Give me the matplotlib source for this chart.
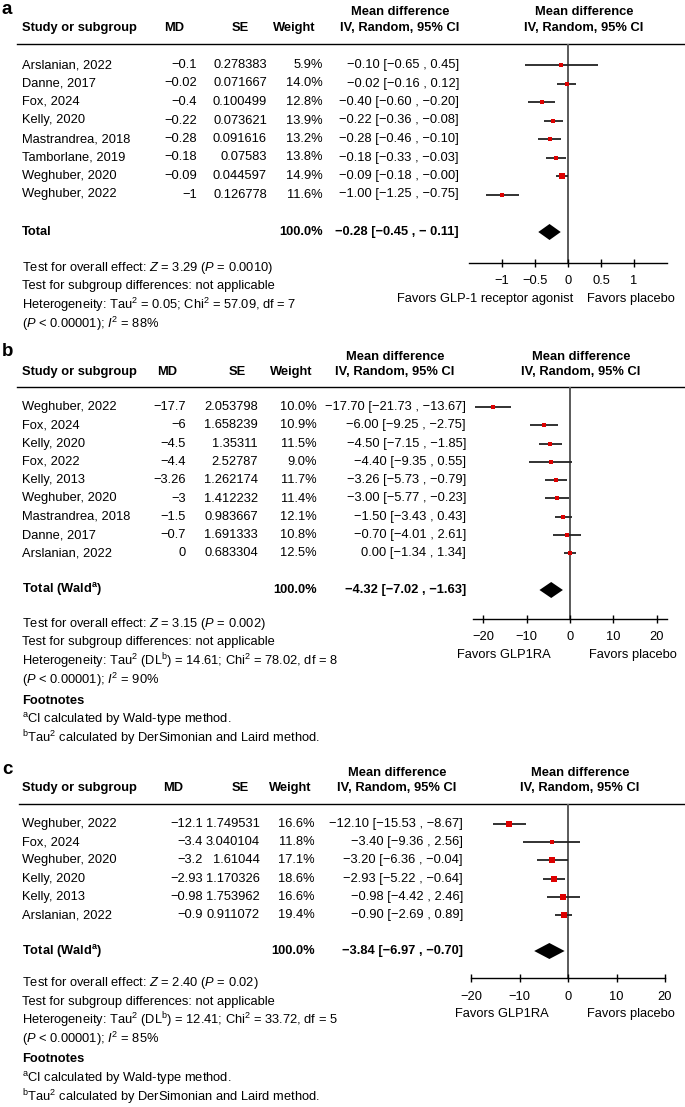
import matplotlib.pyplot as plt

plt.rcParams['font.family'] = ['Liberation Sans', 'DejaVu Sans']
plt.rcParams['mathtext.fontset'] = 'custom'
plt.rcParams['mathtext.rm'] = 'Liberation Sans'
plt.rcParams['mathtext.it'] = 'Liberation Sans:italic'
plt.rcParams['mathtext.bf'] = 'Liberation Sans:bold'

# ---- panel a: data ----
a_study = ["Arslanian, 2022", "Danne, 2017", "Fox, 2024", "Kelly, 2020",
           "Mastrandrea, 2018", "Tamborlane, 2019", "Weghuber, 2020", "Weghuber, 2022"]
a_md = [-0.1, -0.02, -0.4, -0.22, -0.28, -0.18, -0.09, -1]
a_se = [0.278383, 0.071667, 0.100499, 0.073621, 0.091616, 0.07583, 0.044597, 0.126778]
a_weight = [5.9, 14.0, 12.8, 13.9, 13.2, 13.8, 14.9, 11.6]
a_lo = [-0.65, -0.16, -0.60, -0.36, -0.46, -0.33, -0.18, -1.25]
a_hi = [0.45, 0.12, -0.20, -0.08, -0.10, -0.03, -0.0, -0.75]
a_total = [-0.28, -0.45, -0.11]
a_total_text = "−0.28 [−0.45 , − 0.11]"
a_ticks = [-1, -0.5, 0, 0.5, 1]
a_favors = ["Favors GLP-1 receptor agonist", "Favors placebo"]
a_stats = [r"Test for overall effect: $\mathit{Z}$ = 3.29 ($\mathit{P}$ = 0.0010)",
           "Test for subgroup differences: not applicable",
           r"Heterogeneity: Tau$^2$ = 0.05; Chi$^2$ = 57.09, df = 7",
           r"($\mathit{P}$ < 0.00001); $\mathit{I}^2$ = 88%"]

# ---- panel b: data ----
b_study = ["Weghuber, 2022", "Fox, 2024", "Kelly, 2020", "Fox, 2022", "Kelly, 2013",
           "Weghuber, 2020", "Mastrandrea, 2018", "Danne, 2017", "Arslanian, 2022"]
b_md = [-17.7, -6, -4.5, -4.4, -3.26, -3, -1.5, -0.7, 0]
b_se = [2.053798, 1.658239, 1.35311, 2.52787, 1.262174, 1.412232, 0.983667, 1.691333, 0.683304]
b_weight = [10.0, 10.9, 11.5, 9.0, 11.7, 11.4, 12.1, 10.8, 12.5]
b_lo = [-21.73, -9.25, -7.15, -9.35, -5.73, -5.77, -3.43, -4.01, -1.34]
b_hi = [-13.67, -2.75, -1.85, 0.55, -0.79, -0.23, 0.43, 2.61, 1.34]
b_total = [-4.32, -7.02, -1.63]
b_total_text = "−4.32 [−7.02 , −1.63]"
b_ticks = [-20, -10, 0, 10, 20]
b_favors = ["Favors GLP1RA", "Favors placebo"]
b_stats = [r"Test for overall effect: $\mathit{Z}$ = 3.15 ($\mathit{P}$ = 0.002)",
           "Test for subgroup differences: not applicable",
           r"Heterogeneity: Tau$^2$ (DL$^\mathrm{b}$) = 14.61; Chi$^2$ = 78.02, df = 8",
           r"($\mathit{P}$ < 0.00001); $\mathit{I}^2$ = 90%"]

# ---- panel c: data ----
c_study = ["Weghuber, 2022", "Fox, 2024", "Weghuber, 2020", "Kelly, 2020",
           "Kelly, 2013", "Arslanian, 2022"]
c_md = [-12.1, -3.4, -3.2, -2.93, -0.98, -0.9]
c_se = [1.749531, 3.040104, 1.61044, 1.170326, 1.753962, 0.911072]
c_weight = [16.6, 11.8, 17.1, 18.6, 16.6, 19.4]
c_lo = [-15.53, -9.36, -6.36, -5.22, -4.42, -2.69]
c_hi = [-8.67, 2.56, -0.04, -0.64, 2.46, 0.89]
c_total = [-3.84, -6.97, -0.70]
c_total_text = "−3.84 [−6.97 , −0.70]"
c_ticks = [-20, -10, 0, 10, 20]
c_favors = ["Favors GLP1RA", "Favors placebo"]
c_stats = [r"Test for overall effect: $\mathit{Z}$ = 2.40 ($\mathit{P}$ = 0.02)",
           "Test for subgroup differences: not applicable",
           r"Heterogeneity: Tau$^2$ (DL$^\mathrm{b}$) = 12.41; Chi$^2$ = 33.72, df = 5",
           r"($\mathit{P}$ < 0.00001); $\mathit{I}^2$ = 85%"]

footnotes = ["Footnotes",
             r"$^\mathrm{a}$CI calculated by Wald-type method.",
             r"$^\mathrm{b}$Tau$^2$ calculated by DerSimonian and Laird method."]

W, H = 685, 1107
FS = 9.3
fig = plt.figure(figsize=(W / 100, H / 100), dpi=100)
bg = fig.add_axes([0, 0, 1, 1])
bg.set_xlim(0, W)
bg.set_ylim(H, 0)
bg.axis("off")


def neg(s):
    return s.replace("-", "−")


def panel(letter, study, md, se, weight, lo, hi, total, total_label, total_text,
          ticks, xlim, favors, stats, lay):
    cols = lay["cols"]  # md_r, se_r, w_r, ci_r
    heads = lay["heads"]  # header centres
    bg.text(2, lay["label"], letter, fontsize=13.5, fontweight="bold", va="center")
    bg.text(heads[3], lay["h1"], "Mean difference", fontsize=FS, fontweight="bold", ha="center", va="center")
    bg.text(lay["rhead"], lay["h1"], "Mean difference", fontsize=FS, fontweight="bold", ha="center", va="center")
    y2 = lay["h2"]
    bg.text(22, y2, "Study or subgroup", fontsize=FS, fontweight="bold", va="center")
    bg.text(heads[0], y2, "MD", fontsize=FS, fontweight="bold", ha="center", va="center")
    bg.text(heads[1], y2, "SE", fontsize=FS, fontweight="bold", ha="center", va="center")
    bg.text(heads[2], y2, "Weight", fontsize=FS, fontweight="bold", ha="center", va="center")
    bg.text(heads[3], y2, "IV, Random, 95% CI", fontsize=FS, fontweight="bold", ha="center", va="center")
    bg.text(lay["rhead"], y2, "IV, Random, 95% CI", fontsize=FS, fontweight="bold", ha="center", va="center")
    bg.plot([lay["line_x0"], W], [lay["line"], lay["line"]], color="black", lw=1.0)

    rows = [lay["row0"] + i * lay["step"] for i in range(len(study))]
    for y, s, m, e, w, l, h in zip(rows, study, md, se, weight, lo, hi):
        bg.text(22, y, s, fontsize=FS, va="center")
        bg.text(cols[0], y, neg(f"{m:g}"), fontsize=FS, ha="right", va="center")
        bg.text(cols[1], y, str(e), fontsize=FS, ha="right", va="center")
        bg.text(cols[2], y, f"{w:.1f}%", fontsize=FS, ha="right", va="center")
        bg.text(cols[3], y, neg(f"{m:.2f} [{l:.2f} , {h:.2f}]"), fontsize=FS, ha="right", va="center")

    yt = lay["total"]
    bg.text(22, yt, total_label, fontsize=FS, fontweight="bold", va="center")
    bg.text(cols[2], yt, "100.0%", fontsize=FS, fontweight="bold", ha="right", va="center")
    bg.text(cols[3], yt, total_text, fontsize=FS, fontweight="bold", ha="right", va="center")

    ys = lay["stat0"]
    for s in stats:
        bg.text(22, ys, s, fontsize=FS, va="center")
        ys += 18.5
    if lay.get("foot"):
        ys += 2.5
        for i, s in enumerate(footnotes):
            bg.text(22, ys, s, fontsize=FS, va="center",
                    fontweight="bold" if i == 0 else "normal")
            ys += 19

    # forest plot axes in pixel coordinates
    x0, x1 = lay["ax_x"]
    top, bot = lay["line"], lay["stat0"] - 5
    ax = fig.add_axes([x0 / W, 1 - bot / H, (x1 - x0) / W, (bot - top) / H])
    ax.set_xlim(*xlim)
    ax.set_ylim(bot, top)
    ax.patch.set_alpha(0)
    for sp in ["top", "left", "right"]:
        ax.spines[sp].set_visible(False)
    ax.spines["bottom"].set_linewidth(1.0)
    ax.set_yticks([])
    ax.set_xticks(ticks)
    ax.set_xticklabels([neg(f"{t:g}") for t in ticks], fontsize=FS)
    ax.tick_params(axis="x", direction="inout", length=6, width=1.0, pad=6)
    ax.axvline(0, color="#5a5a5a", lw=1.4, zorder=1)

    for y, m, w, l, h in zip(rows, md, weight, lo, hi):
        ax.plot([l, h], [y, y], color="#222222", lw=1.3, zorder=2, solid_capstyle="butt")
        ax.plot(m, y, marker="s", color="#dd0000", markersize=0.95 * w ** 0.5,
                markeredgewidth=0, zorder=3)
    est, tlo, thi = total
    ax.fill([tlo, est, thi, est], [yt, yt - 8, yt, yt + 8], color="black", zorder=3, lw=0)

    fy = lay["stat0"] + 31
    bg.text(lay["fav"][0], fy, favors[0], fontsize=FS, ha="right", va="center")
    bg.text(lay["fav"][1], fy, favors[1], fontsize=FS, ha="left", va="center")


lay_a = dict(label=9, h1=12, h2=28, line=44, row0=65, step=18.5, total=232,
             stat0=268, fav=(573, 587), line_x0=17,
             cols=(197, 267, 323, 459), heads=(174, 240, 294, 400), rhead=584,
             ax_x=(469, 667))
lay_b = dict(label=352, h1=357, h2=372, line=387, row0=407, step=18.3, total=590,
             stat0=624, fav=(551, 589), line_x0=17, foot=True,
             cols=(186, 258, 317, 466), heads=(167, 237, 291, 395), rhead=581,
             ax_x=(473, 667))
lay_c = dict(label=769, h1=773, h2=788, line=804, row0=824, step=18.2, total=951,
             stat0=983, fav=(549, 587), line_x0=19, foot=True,
             cols=(203, 260, 315, 463), heads=(173, 240, 290, 397), rhead=580,
             ax_x=(471, 665))

panel("a", a_study, a_md, a_se, a_weight, a_lo, a_hi, a_total, "Total", a_total_text,
      a_ticks, (-1.5, 1.5), a_favors, a_stats, lay_a)
panel("b", b_study, b_md, b_se, b_weight, b_lo, b_hi, b_total, r"Total (Wald$^\mathbf{a}$)",
      b_total_text, b_ticks, (-22.3, 22.3), b_favors, b_stats, lay_b)
panel("c", c_study, c_md, c_se, c_weight, c_lo, c_hi, c_total, r"Total (Wald$^\mathbf{a}$)",
      c_total_text, c_ticks, (-20, 20), c_favors, c_stats, lay_c)

plt.savefig("out.png", dpi=100)
